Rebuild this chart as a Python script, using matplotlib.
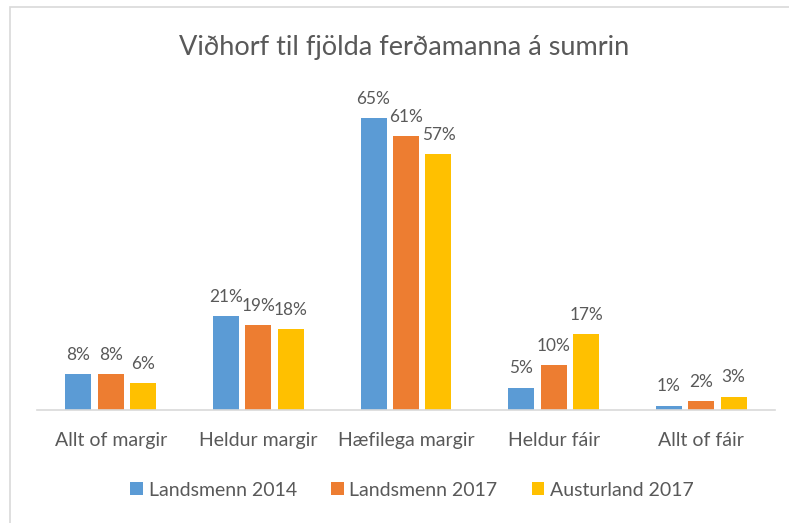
import matplotlib
matplotlib.use("Agg")
import matplotlib.pyplot as plt
import numpy as np
from matplotlib.patches import Rectangle

categories = ["Allt of margir", "Heldur margir", "Hæfilega margir", "Heldur fáir", "Allt of fáir"]
series_names = ["Landsmenn 2014", "Landsmenn 2017", "Austurland 2017"]
landsmenn_2014 = [8, 21, 65, 5, 1]
landsmenn_2017 = [8, 19, 61, 10, 2]
austurland_2017 = [6, 18, 57, 17, 3]
title = "Viðhorf til fjölda ferðamanna á sumrin"

colors = ["#5B9BD5", "#ED7D31", "#FFC000"]
text_color = "#595959"
plt.rcParams['font.family'] = ['Lato', 'DejaVu Sans']

fig = plt.figure(figsize=(7.89, 5.23), dpi=100)
W, H = 789, 523
# frame border
fig.add_artist(Rectangle((9.5 / W, -0.01), 1.2, (H - 6.5) / H + 0.01, transform=fig.transFigure,
                         fill=False, edgecolor="#d9d9d9", linewidth=1.2))

ax = fig.add_axes([37 / W, (H - 410) / H, (775 - 37) / W, (410 - 96) / H])
x = np.arange(len(categories))
bw = 0.176
step = 0.22
all_series = [landsmenn_2014, landsmenn_2017, austurland_2017]
for i, (vals, name, c) in enumerate(zip(all_series, series_names, colors)):
    pos = x + (i - 1) * step
    bars = ax.bar(pos, vals, width=bw, color=c, label=name, zorder=2)
    for b, v in zip(bars, vals):
        ax.annotate(f"{v}%", (b.get_x() + b.get_width() / 2, b.get_height()),
                    xytext=(0, 8), textcoords="offset points", ha="center", va="bottom",
                    fontsize=12.4, color=text_color)

ax.set_xlim(-0.5, len(categories) - 0.5)
ax.set_ylim(0, 70)
ax.set_xticks(x)
ax.set_xticklabels(categories, fontsize=14, color=text_color)
ax.tick_params(axis="x", length=0, pad=16)
ax.set_yticks([])
for s in ["top", "right", "left"]:
    ax.spines[s].set_visible(False)
ax.spines["bottom"].set_color("#d9d9d9")
ax.spines["bottom"].set_linewidth(1.2)

fig.text(404 / W, 1 - 47 / H, title, ha="center", va="center", fontsize=19.5, color=text_color)

leg = fig.legend(loc="center", bbox_to_anchor=(412 / W, 1 - 490 / H), ncol=3, frameon=False,
                 fontsize=14, handlelength=0.65, handleheight=0.65, handletextpad=0.3,
                 columnspacing=1.75, labelcolor=text_color)

fig.savefig("out.png", dpi=100)
